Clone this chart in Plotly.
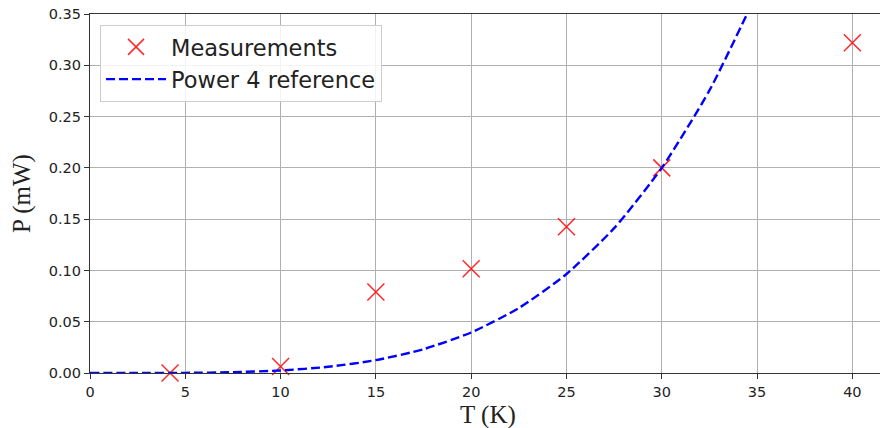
import plotly.graph_objects as go

# Measurements
T_meas = [4.2, 10, 15, 20, 25, 30, 40]
P_meas = [0.0, 0.0064, 0.079, 0.1016, 0.1425, 0.200, 0.322]

# Power 4 reference curve
T_ref = [0, 2.5, 5, 7.5, 10, 12.5, 15, 17.5, 20, 22.5, 25, 27.5, 30, 32.5, 35]
P_ref = [0.0, 0.00001, 0.00015, 0.00078, 0.00247, 0.00603, 0.0125, 0.0232,
         0.0395, 0.0633, 0.0965, 0.1412, 0.200, 0.2755, 0.3705]

x_ticks = [0, 5, 10, 15, 20, 25, 30, 35, 40]
y_ticks = [0.0, 0.05, 0.10, 0.15, 0.20, 0.25, 0.30, 0.35]

fig = go.Figure()
fig.add_trace(go.Scatter(
    x=T_meas, y=P_meas, mode="markers", name="Measurements",
    marker=dict(symbol="x-thin", size=17, line=dict(color="rgba(255,0,0,0.85)", width=1.5),
                color="rgba(255,0,0,0.85)"),
    cliponaxis=False,
))
fig.add_trace(go.Scatter(
    x=T_ref, y=P_ref, mode="lines", name="Power 4 reference",
    line=dict(color="#0000ff", width=2.4, dash="9px,4px", shape="spline", smoothing=0.6),
))

axis_common = dict(
    showgrid=True, gridcolor="#b0b0b0", gridwidth=1,
    showline=True, linecolor="#333333", linewidth=1.2,
    ticks="outside", ticklen=5, tickcolor="#333333",
    tickfont=dict(family="DejaVu Sans", size=14.5, color="#222222"),
    zeroline=False, automargin=False, ticklabeloverflow="allow",
)

fig.update_layout(
    width=880, height=428,
    margin=dict(l=90, r=0, t=14, b=55, pad=0),
    paper_bgcolor="white", plot_bgcolor="white",
    xaxis=dict(range=[0, 41.45], tickvals=x_ticks, ticktext=[str(v) for v in x_ticks],
               mirror=True, **axis_common),
    yaxis=dict(range=[0, 0.35], tickvals=y_ticks, ticktext=[f"{v:.2f}" for v in y_ticks],
               mirror=False, **axis_common),
    legend=dict(x=0.0127, y=0.97, xanchor="left", yanchor="top",
                bgcolor="rgba(255,255,255,0.85)", bordercolor="#cccccc", borderwidth=1,
                font=dict(family="DejaVu Sans", size=22.5, color="#222222"),
                itemwidth=60, tracegroupgap=0),
    showlegend=True,
    annotations=[
        dict(text="T (K)", xref="paper", yref="paper", x=0.504, y=-0.116,
             xanchor="center", yanchor="middle", showarrow=False,
             font=dict(family="Liberation Serif", size=25, color="#222222")),
        dict(text="P (mW)", xref="paper", yref="paper", x=-0.0867, y=0.5,
             xanchor="center", yanchor="middle", showarrow=False, textangle=-90,
             font=dict(family="Liberation Serif", size=25, color="#222222")),
    ],
)

# remove the default page margin so the figure fills the 880x428 window exactly
fig.write_html("out.html", config={"displayModeBar": False},
               post_script="document.body.style.margin='0';")
